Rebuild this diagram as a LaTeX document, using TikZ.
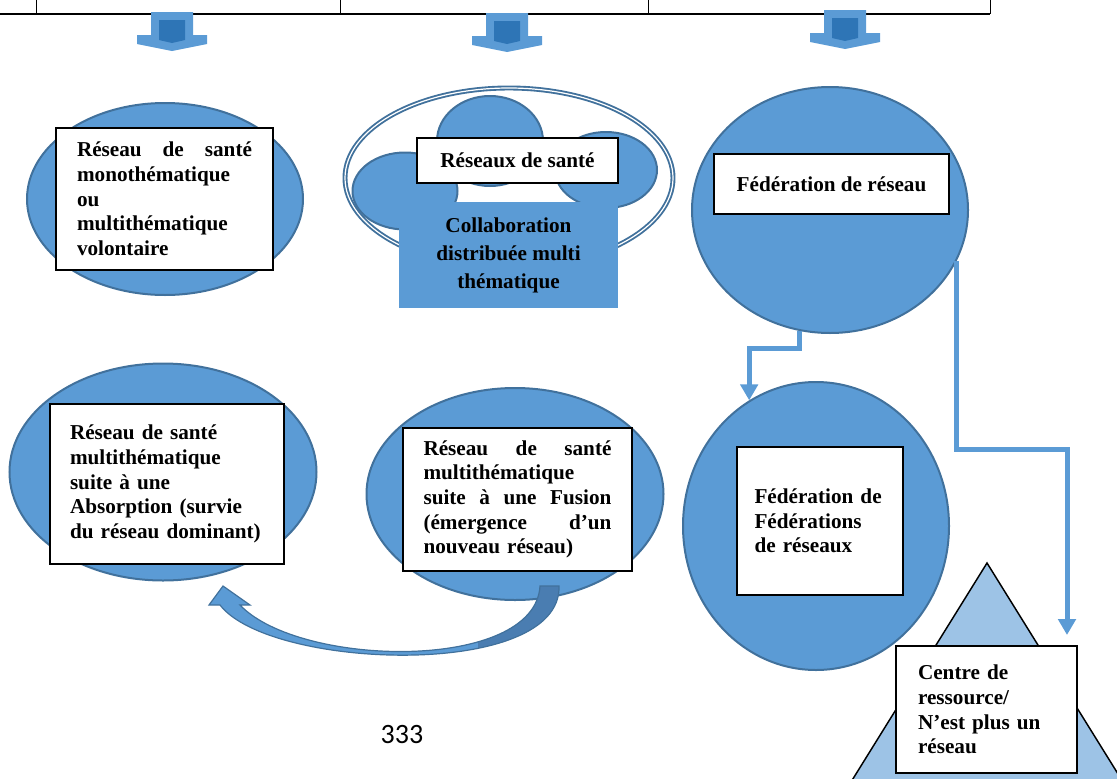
\documentclass[tikz,border=0pt]{standalone}
\usepackage{fontspec}
\setmainfont{Liberation Serif}
\newfontfamily\pagefont{Carlito}
\usetikzlibrary{shapes.geometric,arrows.meta}

\definecolor{fillblue}{HTML}{5B9BD5}
\definecolor{edgeblue}{HTML}{41719C}
\definecolor{darkblue}{HTML}{2E75B6}
\definecolor{shadeblue}{HTML}{4A7DB1}
\definecolor{paleblue}{HTML}{9DC3E6}

\tikzset{
  blob/.style={ellipse, fill=fillblue, draw=edgeblue, line width=1.5pt, inner sep=0pt},
  txtbox/.style={rectangle, draw=black, fill=white, line width=1pt,
    font=\bfseries\fontsize{15.9}{18.5}\selectfont, align=left},
  link/.style={draw=fillblue, line width=3.75pt, -{Triangle[width=13pt,length=12pt]}}
}

\begin{document}
\begin{tikzpicture}[x=0.75pt, y=-0.75pt]
  \useasboundingbox (0,0) rectangle (1117,778);
  \clip (0,0) rectangle (1117,778);

  % bottom edge of the table
  \draw[line width=1.5pt] (0,14) -- (990,14);
  \foreach \vx in {36,340,648,990}
    \draw[line width=0.75pt] (\vx,0) -- (\vx,14);

  % block arrows under the table
  \foreach \cx/\ty in {172/12,507/13,845/10}{
    \fill[fillblue] (\cx-21,\ty) -- (\cx+21,\ty) -- (\cx+21,\ty+23) -- (\cx+35,\ty+23)
      -- (\cx+35,\ty+32) -- (\cx,\ty+39) -- (\cx-35,\ty+32) -- (\cx-35,\ty+23)
      -- (\cx-21,\ty+23) -- cycle;
    \fill[darkblue] (\cx-13,\ty+8) -- (\cx+13,\ty+8) -- (\cx+13,\ty+28)
      -- (\cx,\ty+31) -- (\cx-13,\ty+28) -- cycle;
  }

  % first column
  \node[blob, minimum width=207pt, minimum height=144pt] (mono) at (165,199) {};
  \node[txtbox, text width=131.25pt, inner xsep=15.75pt, minimum height=106.5pt] (monotxt) at (164.5,199)
    {Réseau\hfill de\hfill santé\\monothématique\\ou\\multithématique\\volontaire};

  % second column
  \node[ellipse, draw=edgeblue, double=white, line width=1.4pt, double distance=0.9pt,
    minimum width=246pt, minimum height=135pt, inner sep=0pt] (cloud) at (509,178) {};
  \node[blob, minimum width=79.5pt, minimum height=67.5pt] (blobtop) at (490,141) {};
  \node[blob, minimum width=76.5pt, minimum height=57pt] (blobright) at (606,170) {};
  \node[blob, minimum width=78.75pt, minimum height=57.75pt] (blobleft) at (405,191) {};
  \node[txtbox, align=center, minimum width=150.75pt, minimum height=33.75pt] (reseaux) at (517.5,160.5)
    {Réseaux de santé};
  \node[rectangle, fill=fillblue, font=\bfseries\fontsize{15.9}{21}\selectfont, align=center,
    minimum width=164.25pt, minimum height=79.5pt] (collab) at (508.5,255)
    {Collaboration\\distribuée multi\\thématique};

  % third column
  \node[blob, minimum width=207pt, minimum height=184.5pt] (fed) at (830,210) {};
  \node[txtbox, align=center, minimum width=176.25pt, minimum height=45pt] (fedtxt) at (831.5,184)
    {Fédération de réseau};
  \node[blob, minimum width=199.5pt, minimum height=216pt] (fedfed) at (816,526) {};
  \node[txtbox, text width=98.25pt, inner xsep=13.125pt, minimum height=111pt] (fedfedtxt) at (820,521)
    {Fédération de\\Fédérations\\de réseaux};

  \filldraw[fill=paleblue, draw=black, line width=1.1pt] (987,563) -- (1128,790) -- (846,790) -- cycle;
  \node[txtbox, text width=102.75pt, inner xsep=16.5pt, minimum height=95.25pt] (centre) at (986.5,709.5)
    {Centre de\\ressource/\\N’est plus un\\réseau};

  \coordinate (ctip) at (1067,635);
  \draw[link] (fed.-104) -- ++(0,17) -| (fedfed.118);
  \draw[link] (fed.-22) -- ++(0,188) -| (ctip);

  % second row
  \node[blob, minimum width=230.25pt, minimum height=162.75pt] (absorb) at (163,472) {};
  \node[txtbox, text width=145.5pt, inner xsep=15pt, minimum height=120pt] (absorbtxt) at (167,484)
    {Réseau de santé\\multithématique\\suite à une\\Absorption (survie\\du réseau dominant)};
  \node[blob, minimum width=222.75pt, minimum height=159pt] (fusion) at (515,494) {};
  \node[txtbox, text width=141pt, inner xsep=15.375pt, minimum height=107.25pt] (fusiontxt) at (517.5,499.5)
    {Réseau\hfill de\hfill santé\\multithématique\\suite\hfill à\hfill une\hfill Fusion\\(émergence\hfill d’un\\nouveau réseau)};

  % curved arrow fusion -> absorption
  \fill[fillblue] (559,586) .. controls (562,680) and (270,670) .. (220,605) -- (209,605) -- (223,586)
    -- (250,605) -- (240,605) .. controls (300,668) and (535,672) .. (540,586) -- cycle;
  \begin{scope}
    \clip (478,570) rectangle (570,680);
    \fill[shadeblue] (559,586) .. controls (562,680) and (270,670) .. (220,605) -- (240,605)
      .. controls (300,668) and (535,672) .. (540,586) -- cycle;
  \end{scope}
  \draw[edgeblue, line width=0.9pt] (559,586) .. controls (562,680) and (270,670) .. (220,605) -- (209,605)
    -- (223,586) -- (250,605) -- (240,605) .. controls (300,668) and (535,672) .. (540,586) -- cycle;

  \node[font=\pagefont\fontsize{21}{25}\selectfont] (pagenum) at (402,735) {333};
\end{tikzpicture}
\end{document}
